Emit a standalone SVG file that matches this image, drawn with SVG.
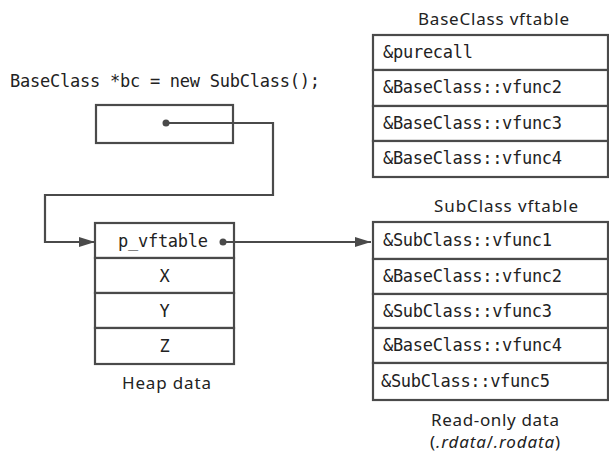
<svg xmlns="http://www.w3.org/2000/svg" width="609" height="456" viewBox="0 0 609 456">
<style>
.box{fill:#fff;stroke:#4a4a4a;stroke-width:2.2}
.code{font-family:"DejaVu Sans Mono","Liberation Mono",monospace;font-size:17px;fill:#222}
.lbl{font-family:"Noto Sans","Open Sans",sans-serif;font-size:17px;fill:#222}
.wire{fill:none;stroke:#4a4a4a;stroke-width:2.2}
</style>
<defs>
<marker id="ah" viewBox="0 0 16 10" refX="16" refY="5" markerWidth="16" markerHeight="10" markerUnits="userSpaceOnUse" orient="auto">
<path d="M0,0 L16,5 L0,10 Z" fill="#4a4a4a"/>
</marker>
</defs>
<rect width="609" height="456" fill="#fff"/>
<text class="code" x="10" y="87" textLength="310">BaseClass *bc = new SubClass();</text>
<g id="pointer">
<rect class="box" x="96" y="105" width="137" height="38"/>
</g>
<g id="heap">
<rect class="box" x="95" y="223" width="139" height="35"/>
<rect class="box" x="95" y="258" width="139" height="35"/>
<rect class="box" x="95" y="293" width="139" height="35"/>
<rect class="box" x="95" y="328" width="139" height="36"/>
<text class="code" x="118" y="247" textLength="90">p_vftable</text>
<text class="code" x="164.5" y="282" text-anchor="middle">X</text>
<text class="code" x="164.5" y="317" text-anchor="middle">Y</text>
<text class="code" x="164.5" y="352" text-anchor="middle">Z</text>
<text class="lbl" x="122" y="389" textLength="89">Heap data</text>
</g>
<g id="basevtable">
<text class="lbl" x="418" y="25" textLength="151">BaseClass vftable</text>
<rect class="box" x="373" y="35" width="235" height="35"/>
<rect class="box" x="373" y="70" width="235" height="36"/>
<rect class="box" x="373" y="106" width="235" height="35"/>
<rect class="box" x="373" y="141" width="235" height="36"/>
<text class="code" x="383" y="58" textLength="90">&amp;purecall</text>
<text class="code" x="383" y="93" textLength="179">&amp;BaseClass::vfunc2</text>
<text class="code" x="383" y="129" textLength="179">&amp;BaseClass::vfunc3</text>
<text class="code" x="383" y="164" textLength="179">&amp;BaseClass::vfunc4</text>
</g>
<g id="subvtable">
<text class="lbl" x="434" y="212" textLength="144">SubClass vftable</text>
<rect class="box" x="373" y="222" width="235" height="37"/>
<rect class="box" x="373" y="259" width="235" height="35"/>
<rect class="box" x="373" y="294" width="235" height="34"/>
<rect class="box" x="373" y="328" width="235" height="35"/>
<rect class="box" x="373" y="363" width="235" height="37"/>
<text class="code" x="383" y="246" textLength="169">&amp;SubClass::vfunc1</text>
<text class="code" x="383" y="282" textLength="179">&amp;BaseClass::vfunc2</text>
<text class="code" x="383" y="317" textLength="169">&amp;SubClass::vfunc3</text>
<text class="code" x="383" y="351" textLength="179">&amp;BaseClass::vfunc4</text>
<text class="code" x="381" y="387" textLength="169">&amp;SubClass::vfunc5</text>
<text class="lbl" x="431" y="426" textLength="128">Read-only data</text>
<text class="lbl" x="430" y="448" textLength="130">(<tspan font-style="italic">.rdata</tspan>/<tspan font-style="italic">.rodata</tspan>)</text>
</g>
<g id="connectors">
<circle cx="166" cy="123" r="3.5" fill="#4a4a4a"/>
<path class="wire" d="M166,123 H273 V195 H45 V242 H95" marker-end="url(#ah)"/>
<circle cx="223" cy="242" r="3.5" fill="#4a4a4a"/>
<path class="wire" d="M223,242 H371" marker-end="url(#ah)"/>
</g>
</svg>
